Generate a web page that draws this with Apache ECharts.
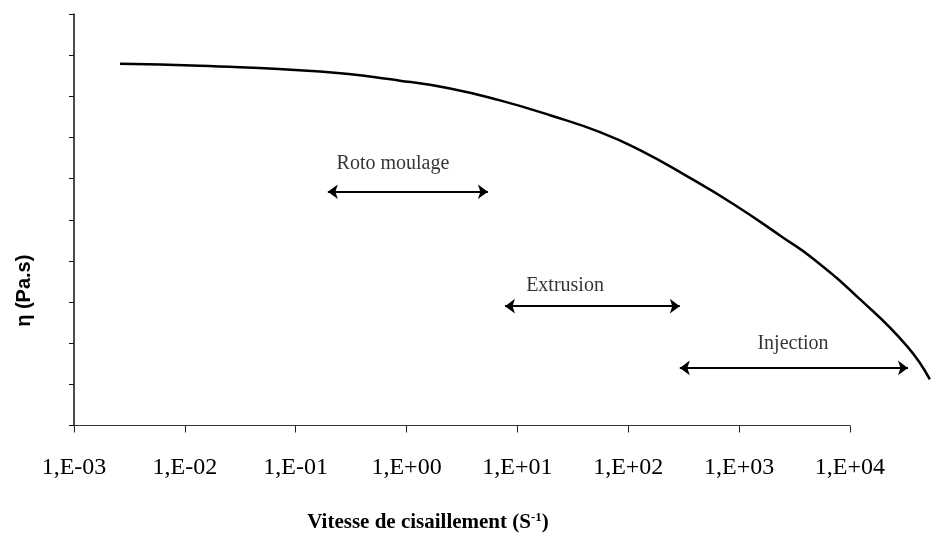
<!DOCTYPE html>
<html>
<head>
<meta charset="utf-8">
<script src="https://cdn.jsdelivr.net/npm/echarts@6/dist/echarts.min.js"></script>
<style>html,body{margin:0;padding:0;background:#fff}#c{width:932px;height:538px}</style>
</head>
<body>
<div id="c"></div>
<script>
// shear rate (s^-1) and viscosity (relative units, axis 0..10)
const shearRate = [0.0026, 0.0137, 0.166, 0.873, 2.47, 6.97, 19.7, 55.6, 127.6, 338, 879, 2483, 4630, 12300, 32700, 52600];
const viscosity = [8.79, 8.74, 8.60, 8.38, 8.19, 7.90, 7.54, 7.13, 6.69, 6.06, 5.39, 4.57, 4.06, 3.07, 1.93, 1.12];
const xTickValues = [0.001, 0.01, 0.1, 1, 10, 100, 1000, 10000];
const xTickLabels = ['1,E-03', '1,E-02', '1,E-01', '1,E+00', '1,E+01', '1,E+02', '1,E+03', '1,E+04'];
// process ranges
const processNames = ['Roto moulage', 'Extrusion', 'Injection'];
const processStart = [0.195, 7.73, 292];
const processEnd = [5.42, 292, 33370];
const processLevel = [5.68, 2.90, 1.40];
// label anchor positions for process names
const processLabelX = [0.754, 26.9, 3063];
const processLabelY = [6.36, 3.40, 1.99];

const chart = echarts.init(document.getElementById('c'));
const markData = processNames.map((n, i) => [
  { coord: [processStart[i], processLevel[i]] },
  { coord: [processEnd[i], processLevel[i]] }
]);
chart.setOption({
  animation: false,
  backgroundColor: '#fff',
  grid: { left: 74, right: 0, top: 14, bottom: 109 },
  xAxis: {
    type: 'log', logBase: 10, min: 0.001, max: 55000,
    axisLine: { show: false },
    axisTick: { show: true, length: 7, customValues: xTickValues, lineStyle: { color: '#222' } },
    splitLine: { show: false },
    axisLabel: {
      margin: 30, customValues: xTickValues,
      fontFamily: 'Liberation Serif', fontSize: 24, color: '#000',
      formatter: v => xTickLabels[xTickValues.findIndex(t => Math.abs(Math.log10(t) - Math.log10(v)) < 0.01)] || ''
    },
    name: 'Vitesse de cisaillement (S{sup|-1})',
    nameLocation: 'middle', nameGap: 86,
    nameTextStyle: {
      fontFamily: 'Liberation Serif', fontWeight: 'bold', fontSize: 21, color: '#000',
      padding: [0, 150, 0, 0],
      rich: { sup: { fontFamily: 'Liberation Serif', fontWeight: 'bold', fontSize: 13, color: '#000', verticalAlign: 'top', padding: [0, 0, 9, 0] } }
    }
  },
  yAxis: {
    type: 'value', min: 0, max: 10, interval: 1,
    axisLine: { show: true, lineStyle: { color: '#111', width: 1.5 } },
    axisTick: { show: true, length: 5, lineStyle: { color: '#111' } },
    axisLabel: { show: false },
    splitLine: { show: false },
    name: 'η (Pa.s)', nameLocation: 'middle', nameRotate: 90, nameGap: 40,
    nameTextStyle: { fontFamily: 'Liberation Sans', fontWeight: 'bold', fontSize: 20, color: '#000', padding: [0, 142, 0, 0] }
  },
  series: [
    {
      type: 'line', smooth: 0.5, clip: false, symbol: 'none',
      data: shearRate.map((x, i) => [x, viscosity[i]]),
      lineStyle: { color: '#000', width: 2.5 },
      markLine: {
        silent: true, symbol: ['arrow', 'arrow'], symbolSize: [11, 10],
        lineStyle: { color: '#000', width: 2, type: 'solid' },
        label: { show: false },
        data: markData
      }
    },
    {
      // x axis line, ending at the last decade tick
      type: 'line', data: [], symbol: 'none',
      markLine: {
        silent: true, symbol: ['none', 'none'],
        lineStyle: { color: '#333', width: 1, type: 'solid' },
        label: { show: false },
        data: [[{ coord: [xTickValues[0], 0] }, { coord: [xTickValues[xTickValues.length - 1], 0] }]]
      }
    },
    {
      type: 'scatter', symbolSize: 0, clip: false,
      data: processNames.map((n, i) => ({ value: [processLabelX[i], processLabelY[i]], name: n })),
      label: {
        show: true, position: 'inside', formatter: p => p.name,
        fontFamily: 'Liberation Serif', fontSize: 20, color: '#000'
      }
    }
  ]
});
</script>
</body>
</html>
